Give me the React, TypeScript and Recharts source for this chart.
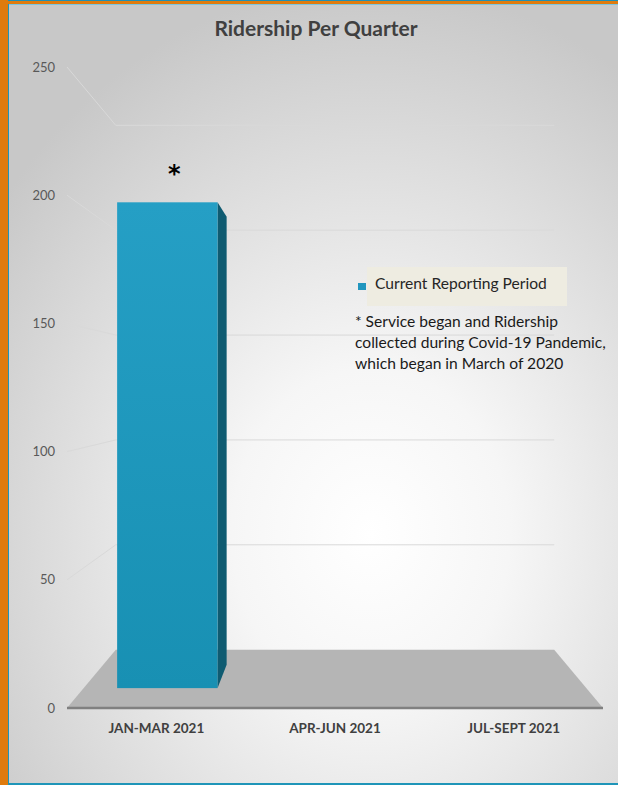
import { Bar, BarChart, CartesianGrid, LabelList, Legend, XAxis, YAxis } from "recharts";

const quarters = ["JAN-MAR 2021", "APR-JUN 2021", "JUL-SEPT 2021"];
const ridership = [202, null, null];
const notes = ["*", "", ""];
const yTicks = [0, 50, 100, 150, 200, 250];
const seriesName = "Current Reporting Period";
const footnote = [
  "* Service began and Ridership",
  "collected during Covid-19 Pandemic,",
  "which began in March of 2020",
];

const data = quarters.map((q, i) => ({ quarter: q, riders: ridership[i], note: notes[i] }));

const W = 618;
const H = 785;
const PLOT = { left: 67, top: 67, right: 603, bottom: 708 };
// fake 3d: everything shrinks toward the middle of the plot as it goes back
const VX = (PLOT.left + PLOT.right) / 2;
const VY = (PLOT.top + PLOT.bottom) / 2;
const WALL = 0.818;
const BAR_FRONT = 0.938;
const BAR_BACK = 0.865;

const proj = (x: number, y: number, s: number) => [VX + (x - VX) * s, VY + (y - VY) * s];
const pts = (list: number[][]) => list.map((p) => p.join(",")).join(" ");

function WallLine(props: any) {
  const { y1, index } = props;
  if (Math.abs(y1 - PLOT.bottom) < 1) {
    const floor = [
      proj(PLOT.left, PLOT.bottom, 1),
      proj(PLOT.right, PLOT.bottom, 1),
      proj(PLOT.right, PLOT.bottom, WALL),
      proj(PLOT.left, PLOT.bottom, WALL),
    ];
    return <polygon key={`floor-${index}`} points={pts(floor)} fill="#b5b5b5" />;
  }
  const [bx1, by] = proj(PLOT.left, y1, WALL);
  const [bx2] = proj(PLOT.right, y1, WALL);
  return (
    <g key={`wall-${index}`} stroke="#d9d9d9" strokeWidth={1}>
      <line x1={PLOT.left} y1={y1} x2={bx1} y2={by} />
      <line x1={bx1} y1={by} x2={bx2} y2={by} />
    </g>
  );
}

function Bar3D(props: any) {
  const { x, y, width, height } = props;
  if (!height) return null;
  const [fx1, fy1] = proj(x, y, BAR_FRONT);
  const [fx2, fy2] = proj(x + width, y + height, BAR_FRONT);
  const [sx, sy1] = proj(x + width, y, BAR_BACK);
  const [, sy2] = proj(x + width, y + height, BAR_BACK);
  return (
    <g>
      <polygon points={pts([[fx2, fy1], [sx, sy1], [sx, sy2], [fx2, fy2]])} fill="#0f5b71" />
      <rect x={fx1} y={fy1} width={fx2 - fx1} height={fy2 - fy1} fill="url(#barFront)" />
    </g>
  );
}

function NoteMark(props: any) {
  const { x, y, width, value } = props;
  if (!value) return null;
  const [cx, cy] = proj(x + width / 2, y, BAR_FRONT);
  return (
    <text
      x={cx + 7}
      y={cy - 20}
      textAnchor="middle"
      fontFamily="'DejaVu Sans', sans-serif"
      fontWeight={700}
      fontSize={24}
      fill="#000"
    >
      {value}
    </text>
  );
}

function LegendBox({ payload }: any) {
  return (
    <div>
      {(payload || []).map((entry: any) => (
        <div key={entry.value} style={{ display: "flex", alignItems: "center" }}>
          <span style={{ width: 8, height: 7, background: entry.color, marginRight: 1 }} />
          <span
            style={{
              background: "#eeece1",
              width: 192,
              height: 39,
              lineHeight: "33px",
              paddingLeft: 8,
              fontSize: 15.6,
              color: "#262626",
            }}
          >
            {entry.value}
          </span>
        </div>
      ))}
    </div>
  );
}

export default function App() {
  return (
    <div
      style={{
        position: "relative",
        width: W,
        height: H,
        overflow: "hidden",
        fontFamily: "Lato, 'Open Sans', sans-serif",
        background:
          "radial-gradient(ellipse 75% 70% at 60% 68%, #ffffff 0%, #f6f6f6 30%, #dcdcdc 70%, #c8c8c8 100%)",
      }}
    >
      <style>{"body{margin:0}"}</style>
      <div style={{ position: "absolute", left: 0, top: 0, width: W, height: 1, background: "#1f8fb3" }} />
      <div style={{ position: "absolute", left: 0, top: 1, width: W, height: 3, background: "#df7b0e" }} />
      <div style={{ position: "absolute", left: 0, top: 0, width: 8, height: H, background: "#df7b0e" }} />
      <div style={{ position: "absolute", left: 8, top: 4, width: W - 8, height: 1, background: "#7cc5e0" }} />
      <div style={{ position: "absolute", left: 8, top: 4, width: 1, height: H, background: "#1f95b8" }} />
      <div style={{ position: "absolute", left: 8, top: H - 2, width: W - 8, height: 2, background: "#1f95b8" }} />
      <div
        style={{
          position: "absolute",
          left: 7,
          top: 14,
          width: W,
          textAlign: "center",
          fontSize: 21,
          lineHeight: "28px",
          fontWeight: 700,
          color: "#404040",
        }}
      >
        Ridership Per Quarter
      </div>
      <BarChart
        width={W}
        height={H}
        data={data}
        margin={{ top: 67, right: 15, bottom: 47, left: 0 }}
        barCategoryGap="20%"
        style={{ position: "absolute", left: 0, top: 0 }}
      >
        <defs>
          <linearGradient id="barFront" x1="0" y1="0" x2="0" y2="1">
            <stop offset="0%" stopColor="#259fc5" />
            <stop offset="100%" stopColor="#1890b3" />
          </linearGradient>
        </defs>
        <CartesianGrid vertical={false} horizontal={WallLine} />
        <XAxis
          dataKey="quarter"
          height={30}
          tickLine={false}
          tickSize={6}
          tickMargin={9}
          axisLine={{ stroke: "#808080", strokeWidth: 2.5 }}
          tick={{ fill: "#404040", fontSize: 13.5, fontWeight: 700 }}
        />
        <YAxis
          width={67}
          domain={[0, 250]}
          ticks={yTicks}
          axisLine={false}
          tickLine={false}
          tickSize={6}
          tickMargin={6}
          tick={{ fill: "#595959", fontSize: 13 }}
        />
        <Legend
          layout="horizontal"
          verticalAlign="middle"
          align="center"
          content={LegendBox}
          wrapperStyle={{ left: 358, top: 267, width: "auto" }}
        />
        <Bar dataKey="riders" name={seriesName} fill="#2196be" shape={Bar3D} isAnimationActive={false}>
          <LabelList dataKey="note" content={NoteMark} />
        </Bar>
      </BarChart>
      <div
        style={{
          position: "absolute",
          left: 355,
          top: 311,
          fontSize: 15.6,
          lineHeight: "21px",
          color: "#1a1a1a",
        }}
      >
        {footnote.map((line) => (
          <div key={line}>{line}</div>
        ))}
      </div>
    </div>
  );
}
